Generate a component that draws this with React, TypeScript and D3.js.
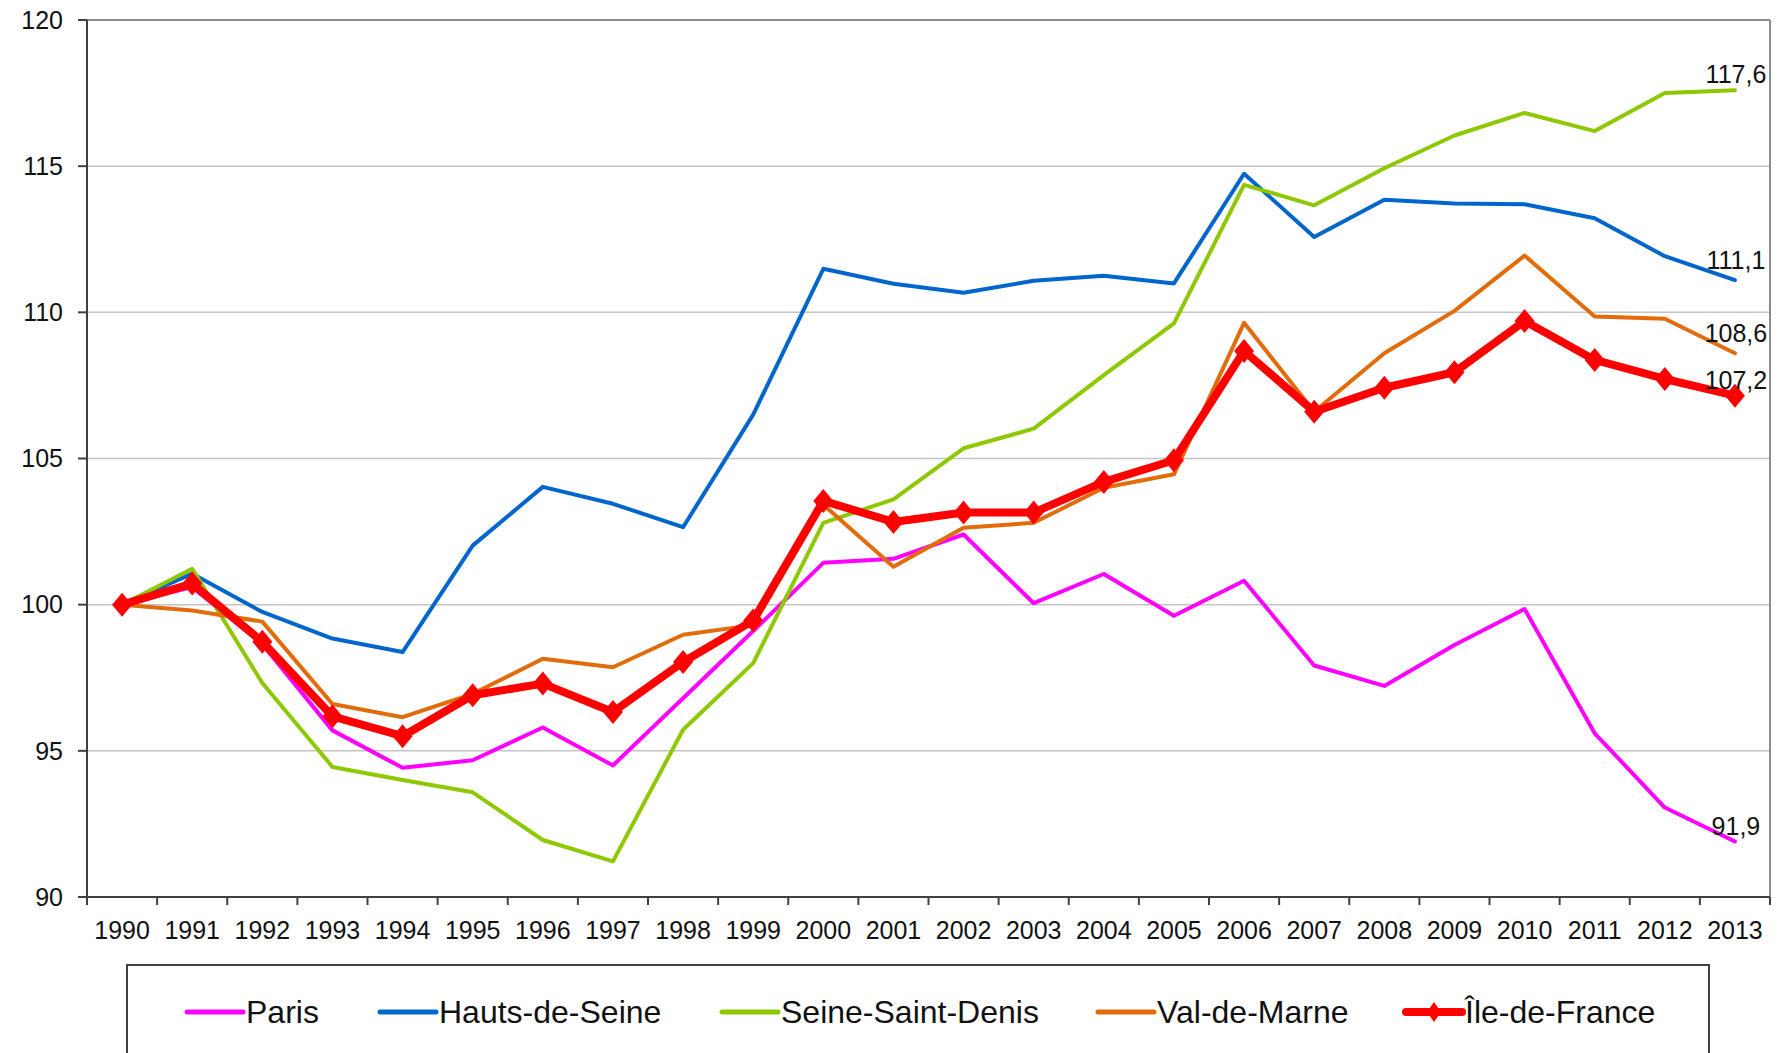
import React from "react";
import * as d3 from "d3";

const years = [
  "1990", "1991", "1992", "1993", "1994", "1995", "1996", "1997", "1998", "1999", "2000", "2001",
  "2002", "2003", "2004", "2005", "2006", "2007", "2008", "2009", "2010", "2011", "2012", "2013",
];

const paris = [100, 100.6, 98.65, 95.7, 94.42, 94.68, 95.8, 94.5, 96.8, 99.1, 101.43, 101.57, 102.4, 100.05, 101.05, 99.62, 100.82, 97.92, 97.22, 98.62, 99.85, 95.6, 93.06, 91.9];
const hautsDeSeine = [100, 101.06, 99.75, 98.84, 98.38, 102.02, 104.03, 103.45, 102.65, 106.5, 111.49, 110.98, 110.67, 111.08, 111.25, 110.99, 114.74, 112.58, 113.85, 113.72, 113.7, 113.22, 111.92, 111.1];
const seineSaintDenis = [100, 101.23, 97.32, 94.45, 94.0, 93.58, 91.95, 91.22, 95.72, 98.0, 102.8, 103.6, 105.35, 106.02, 107.85, 109.62, 114.36, 113.66, 114.93, 116.05, 116.82, 116.2, 117.5, 117.6];
const valDeMarne = [100, 99.8, 99.42, 96.6, 96.15, 96.95, 98.15, 97.86, 98.97, 99.3, 103.42, 101.3, 102.63, 102.8, 104.0, 104.46, 109.64, 106.6, 108.6, 110.05, 111.94, 109.86, 109.78, 108.6];
const ileDeFrance = [100, 100.72, 98.73, 96.18, 95.5, 96.9, 97.3, 96.33, 98.04, 99.46, 103.55, 102.83, 103.15, 103.15, 104.2, 104.94, 108.68, 106.6, 107.42, 107.95, 109.7, 108.37, 107.72, 107.15];

const seriesNames = ["Paris", "Hauts-de-Seine", "Seine-Saint-Denis", "Val-de-Marne", "Île-de-France"];
const seriesColors = ["#FF00FF", "#0066CC", "#8DC800", "#E36C0A", "#FF0000"];
const endLabels = ["91,9", "111,1", "117,6", "108,6", "107,2"];
const yTicks = [90, 95, 100, 105, 110, 115, 120];

const FONT = "'Liberation Sans', Arial, sans-serif";

export default function App() {
  const W = 1778;
  const H = 1053;
  const left = 87;
  const right = 1770;
  const top = 20;
  const bottom = 897;

  const x = d3.scaleBand<string>().domain(years).range([left, right]).padding(0);
  const cx = (yr: string) => (x(yr) as number) + x.bandwidth() / 2;
  const y = d3.scaleLinear().domain([90, 120]).range([bottom, top]);

  const allSeries = [paris, hautsDeSeine, seineSaintDenis, valDeMarne, ileDeFrance];
  const line = d3
    .line<number>()
    .x((_, i) => cx(years[i]))
    .y((v) => y(v));

  const diamond = "M0,-12 L10,0 L0,12 L-10,0 Z";
  const legendX = [187, 380, 722, 1098, 1406];
  const legendY = 1012;

  return (
    <div style={{ position: "absolute", left: 0, top: 0 }}>
      <svg width={W} height={H} style={{ display: "block", background: "#fff" }} fontFamily={FONT}>
        <rect x={0} y={0} width={W} height={H} fill="#fff" />
        {/* gridlines */}
        {yTicks.map((t) => (
          <line
            key={"g" + t}
            x1={left}
            x2={right}
            y1={y(t)}
            y2={y(t)}
            stroke={t === 120 ? "#8C8C8C" : "#C4C4C4"}
            strokeWidth={t === 120 ? 2 : 1.5}
          />
        ))}
        {/* right border */}
        <line x1={right} x2={right} y1={top} y2={bottom} stroke="#8C8C8C" strokeWidth={2} />
        {/* left axis */}
        <line x1={left} x2={left} y1={top} y2={bottom} stroke="#404040" strokeWidth={2} />
        {yTicks.map((t) => (
          <g key={"yt" + t}>
            <line x1={left - 9} x2={left} y1={y(t)} y2={y(t)} stroke="#404040" strokeWidth={2} />
            <text x={63} y={y(t)} dy="0.35em" textAnchor="end" fontSize={25} fill="#111">
              {t}
            </text>
          </g>
        ))}
        {/* bottom axis */}
        <line x1={left} x2={right} y1={bottom} y2={bottom} stroke="#404040" strokeWidth={2} />
        {years.map((yr, i) => (
          <line
            key={"xt" + yr}
            x1={x(yr) as number}
            x2={x(yr) as number}
            y1={bottom}
            y2={bottom + 8}
            stroke="#404040"
            strokeWidth={2}
          />
        ))}
        <line x1={right} x2={right} y1={bottom} y2={bottom + 8} stroke="#404040" strokeWidth={2} />
        {years.map((yr) => (
          <text key={"xl" + yr} x={cx(yr)} y={930} dy="0.35em" textAnchor="middle" fontSize={25} fill="#111">
            {yr}
          </text>
        ))}
        {/* series lines */}
        {allSeries.map((s, si) => (
          <path
            key={"s" + si}
            d={line(s) as string}
            fill="none"
            stroke={seriesColors[si]}
            strokeWidth={si === 4 ? 8 : 4}
            strokeLinejoin="round"
            strokeLinecap="round"
          />
        ))}
        {ileDeFrance.map((v, i) => (
          <path key={"m" + i} d={diamond} transform={`translate(${cx(years[i])},${y(v)})`} fill="#FF0000" />
        ))}
        {/* end labels */}
        {allSeries.map((s, si) => (
          <text
            key={"el" + si}
            x={cx(years[years.length - 1]) + 1}
            y={y(s[s.length - 1]) - (si === 0 || si === 4 ? 15 : si === 2 ? 16 : 20)}
            dy="0.35em"
            textAnchor="middle"
            fontSize={25}
            fill="#111"
          >
            {endLabels[si]}
          </text>
        ))}
        {/* legend */}
        <rect x={127} y={965} width={1582} height={140} fill="#fff" stroke="#404040" strokeWidth={2} />
        {seriesNames.map((n, si) => (
          <g key={"lg" + si} transform={`translate(${legendX[si]},${legendY})`}>
            <line x1={0} x2={56} y1={0} y2={0} stroke={seriesColors[si]} strokeWidth={si === 4 ? 8 : 5} strokeLinecap="round" />
            {si === 4 && <path d="M0,-10 L7,0 L0,10 L-7,0 Z" transform="translate(28,0)" fill="#FF0000" />}
            <text x={59} y={0} dy="0.35em" fontSize={32} fill="#111">
              {n}
            </text>
          </g>
        ))}
      </svg>
    </div>
  );
}
